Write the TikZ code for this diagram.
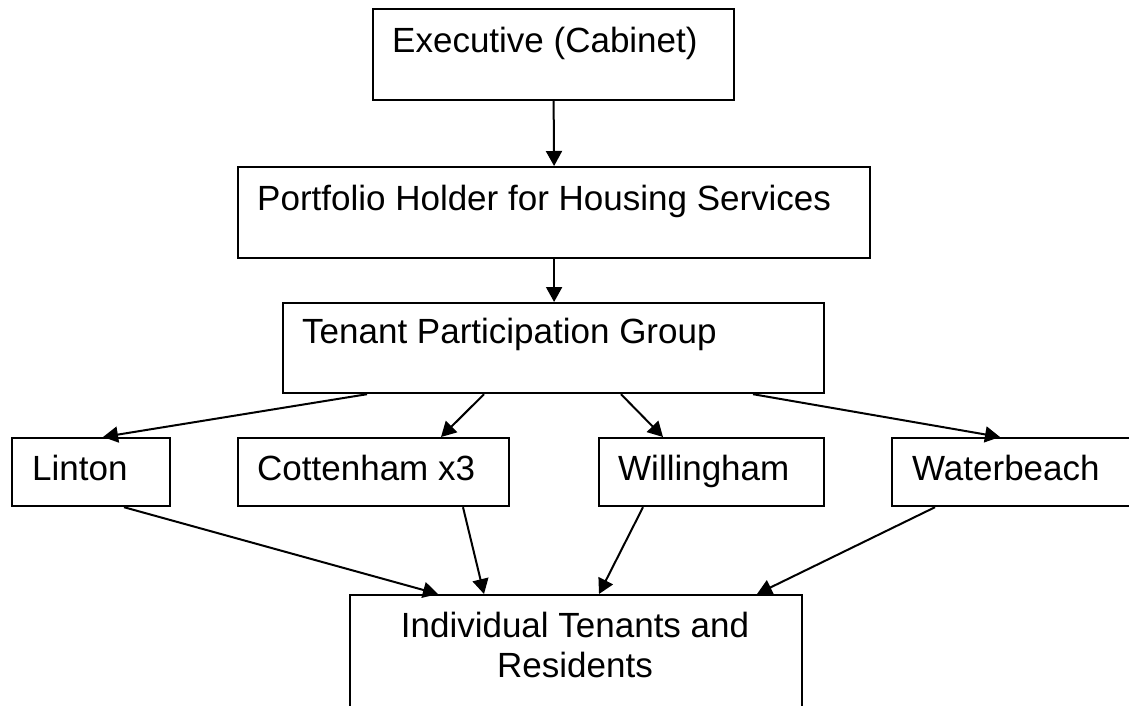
\documentclass[tikz,border=0pt]{standalone}
\usepackage{fontspec}
\setmainfont{Liberation Sans}
\usetikzlibrary{arrows.meta}

\tikzset{
  box/.style={draw=black, line width=2.2pt, rectangle, inner sep=0pt,
    anchor=north west, fill=none},
  txt/.style={anchor=base west, inner sep=0pt,
    font=\fontsize{35}{40}\selectfont},
  link/.style={draw=black, line width=2pt,
    -{Triangle[length=15pt,width=16pt]}},
}

\begin{document}
\begin{tikzpicture}[x=1pt, y=-1pt]
  \useasboundingbox (0,0) rectangle (1129,705);
  \clip (0,0) rectangle (1129,705);
  \fill[white] (0,0) rectangle (1129,705);

  % boxes
  \node[box, minimum width=361pt, minimum height=91pt] (exec) at (372,8) {};
  \node[box, minimum width=632pt, minimum height=91pt] (port) at (237,166) {};
  \node[box, minimum width=541pt, minimum height=90pt] (tpg)  at (282,302) {};
  \node[box, minimum width=158pt, minimum height=68pt] (linton) at (11,437) {};
  \node[box, minimum width=271pt, minimum height=68pt] (cott)   at (237,437) {};
  \node[box, minimum width=225pt, minimum height=68pt] (will)   at (598,437) {};
  \node[box, minimum width=260pt, minimum height=68pt] (water)  at (891,437) {};
  \node[box, minimum width=452pt, minimum height=140pt] (indiv) at (349,594) {};

  % labels
  \node[txt] (execT)   at (392,52)  {Executive (Cabinet)};
  \node[txt] (portT)   at (257,210) {Portfolio Holder for Housing Services};
  \node[txt] (tpgT)    at (302,343) {Tenant Participation Group};
  \node[txt] (lintonT) at (32,480)  {Linton};
  \node[txt] (cottT)   at (257,480) {Cottenham x3};
  \node[txt] (willT)   at (618,480) {Willingham};
  \node[txt] (waterT)  at (912,480) {Waterbeach};
  % base anchor of a two-line node sits on its last line
  \node[txt, anchor=base, align=center] (indivT) at (575,677)
    {Individual Tenants and\\Residents};

  % connectors
  \draw[link] (exec.south) -- (port.north);
  \draw[link] (port.south) -- (tpg.north -| port.south);

  \draw[link] ([xshift=85pt]tpg.south west)  -- ([xshift=92pt]linton.north west);
  \draw[link] ([xshift=202pt]tpg.south west) -- ([xshift=204pt]cott.north west);
  \draw[link] ([xshift=339pt]tpg.south west) -- ([xshift=65pt]will.north west);
  \draw[link] ([xshift=471pt]tpg.south west) -- ([xshift=109pt]water.north west);

  \draw[link] ([xshift=113pt]linton.south west) -- ([xshift=89pt]indiv.north west);
  \draw[link] ([xshift=226pt]cott.south west)   -- ([xshift=135pt]indiv.north west);
  \draw[link] ([xshift=45pt]will.south west)    -- ([xshift=250pt]indiv.north west);
  \draw[link] ([xshift=44pt]water.south west)   -- ([xshift=408pt]indiv.north west);
\end{tikzpicture}
\end{document}
